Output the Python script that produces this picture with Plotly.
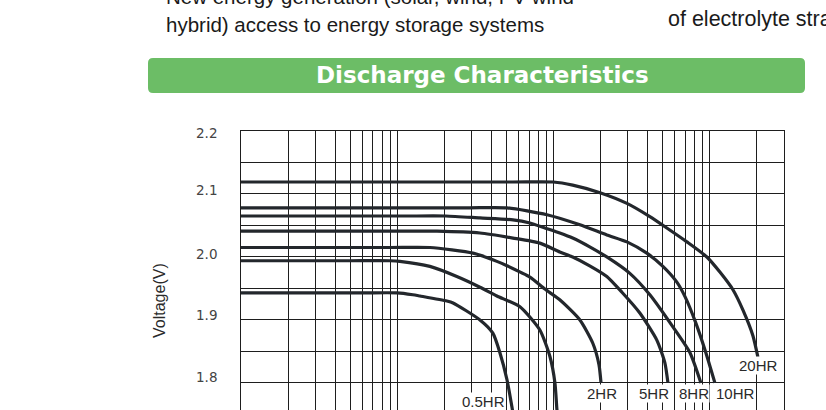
import math
import plotly.graph_objects as go

# ---------------- data (time in minutes, log scale; voltage per cell) ----------------
t_05 = [1, 6, 10, 12.6, 14, 20.8, 22.8, 33.9, 41, 45.5, 50.5, 54.3, 56]
v_05 = [1.943, 1.943, 1.943, 1.940, 1.938, 1.930, 1.927, 1.900, 1.879, 1.848, 1.805, 1.762, 1.741]

t_1 = [1, 5, 9, 10.4, 16.2, 24.1, 33.9, 43.5, 61.1, 82, 95.1, 102.4, 105.5, 108]
v_1 = [1.994, 1.994, 1.994, 1.993, 1.985, 1.969, 1.952, 1.938, 1.921, 1.884, 1.842, 1.800, 1.757, 1.735]

t_2 = [1, 9, 16.2, 30.6, 43.5, 50.5, 70.8, 88.3, 110, 148, 179, 196, 202]
v_2 = [2.015, 2.015, 2.015, 2.006, 1.993, 1.986, 1.968, 1.949, 1.932, 1.900, 1.863, 1.829, 1.800]

t_5 = [1, 10, 18, 33.9, 55.1, 82, 110, 133, 171, 220, 275, 358, 460, 518, 542]
v_5 = [2.041, 2.041, 2.041, 2.038, 2.030, 2.022, 2.008, 2.000, 1.986, 1.969, 1.944, 1.911, 1.868, 1.832, 1.800]

t_8 = [1, 11, 20.5, 33.9, 55.1, 70.8, 88.3, 110, 133, 171, 220, 309, 415, 583, 750, 881]
v_8 = [2.065, 2.065, 2.065, 2.062, 2.059, 2.054, 2.046, 2.038, 2.030, 2.016, 2.000, 1.974, 1.940, 1.889, 1.848, 1.800]

t_10 = [1, 28, 50.5, 91, 148, 220, 296, 397, 503, 618, 697, 818, 948, 1083]
v_10 = [2.078, 2.078, 2.078, 2.067, 2.051, 2.035, 2.024, 2.006, 1.985, 1.960, 1.937, 1.895, 1.848, 1.800]

t_20 = [1, 55, 100, 133, 199, 296, 415, 533, 716, 962, 1166, 1413, 1636, 1897, 2042]
v_20 = [2.119, 2.119, 2.119, 2.114, 2.102, 2.085, 2.064, 2.046, 2.024, 2.000, 1.976, 1.948, 1.916, 1.875, 1.841]

curve_names = ["0.5HR", "1HR", "2HR", "5HR", "8HR", "10HR", "20HR"]
curve_t = [t_05, t_1, t_2, t_5, t_8, t_10, t_20]
curve_v = [v_05, v_1, v_2, v_5, v_8, v_10, v_20]

label_names = ["0.5HR", "2HR", "5HR", "8HR", "10HR", "20HR"]
label_t = [35.9, 203.8, 440.6, 794, 1476, 2070]
label_v = [1.770, 1.784, 1.7825, 1.784, 1.784, 1.827]

x_grid = [1, 2, 3, 4, 5, 6, 7, 8, 9, 10, 20, 30, 40, 50, 60, 70, 80, 90,
          100, 200, 300, 400, 500, 600, 700, 800, 900, 1000, 2000, 3000]
y_grid = [1.75, 1.80, 1.85, 1.90, 1.95, 2.00, 2.05, 2.10, 2.15, 2.20]
y_label_vals = [1.8, 1.9, 2.0, 2.1, 2.2]
y_label_text = ["1.8", "1.9", "2.0", "2.1", "2.2"]
y_label_shift = [5.5, 4.5, 2.5, 3.5, -1.5]   # pixel offsets of the printed labels

title_text = "Discharge Characteristics"
y_title = "Voltage(V)"
top_line1 = "New energy generation (solar, wind, PV wind"
top_line2 = "hybrid) access to energy storage systems"
top_right = "of electrolyte stratification"

# ---------------- figure ----------------
W, H = 826, 410
ML, MR, MT, MB = 241, 42, 131, 0
PW, PH = W - ML - MR, H - MT - MB


def px_x(p):
    return (p - ML) / PW


def px_y(p):
    return (H - MB - p) / PH


LINE = "#23272c"
fig = go.Figure()
for name, t, v in zip(curve_names, curve_t, curve_v):
    fig.add_trace(go.Scatter(x=t, y=v, mode="lines", name=name,
                             line=dict(color=LINE, width=3.2, shape="spline", smoothing=0.6),
                             showlegend=False, hoverinfo="skip"))

ann = []
for n, x, y in zip(label_names, label_t, label_v):
    ann.append(dict(x=math.log10(x), y=y, xref="x", yref="y", text=n, showarrow=False,
                    font=dict(family="Liberation Sans, Arial, sans-serif", size=15, color="#2a2a2a"),
                    bgcolor="white", borderpad=0, xanchor="center", yanchor="middle"))

for v, s, sh in zip(y_label_vals, y_label_text, y_label_shift):
    ann.append(dict(x=px_x(219), y=v, xref="paper", yref="y", text=s, showarrow=False,
                    xanchor="right", yanchor="middle", yshift=sh,
                    font=dict(family="DejaVu Sans, sans-serif", size=13.5, color="#444444")))

ann.append(dict(x=px_x(159), y=px_y(301), xref="paper", yref="paper", text=y_title,
                textangle=-90, showarrow=False, xanchor="center", yanchor="middle",
                font=dict(family="Liberation Sans, Arial, sans-serif", size=16, color="#2a2a2a")))

ann.append(dict(x=px_x(482.5), y=px_y(75.5), xref="paper", yref="paper", text=title_text,
                showarrow=False, xanchor="center", yanchor="middle",
                font=dict(family="DejaVu Sans, sans-serif", size=23, color="white", weight="bold")))

body = "Liberation Sans, Arial, sans-serif"
ann.append(dict(x=px_x(164), y=px_y(-4), xref="paper", yref="paper", text=top_line1,
                showarrow=False, xanchor="left", yanchor="middle",
                font=dict(family=body, size=20.5, color="#1a1a1a")))
ann.append(dict(x=px_x(164), y=px_y(25), xref="paper", yref="paper", text=top_line2,
                showarrow=False, xanchor="left", yanchor="middle",
                font=dict(family=body, size=20.5, color="#1a1a1a")))
ann.append(dict(x=px_x(666), y=px_y(19), xref="paper", yref="paper", text=top_right,
                showarrow=False, xanchor="left", yanchor="middle",
                font=dict(family=body, size=21.5, color="#1a1a1a")))

# rounded green banner
x0, x1 = px_x(148), px_x(805)
y0, y1 = px_y(93), px_y(58)
rx, ry = 5 / PW, 5 / PH
path = (f"M {x0+rx},{y0} L {x1-rx},{y0} Q {x1},{y0} {x1},{y0+ry} L {x1},{y1-ry} "
        f"Q {x1},{y1} {x1-rx},{y1} L {x0+rx},{y1} Q {x0},{y1} {x0},{y1-ry} "
        f"L {x0},{y0+ry} Q {x0},{y0} {x0+rx},{y0} Z")
shapes = [dict(type="path", path=path, xref="paper", yref="paper",
               fillcolor="#6cbd66", line=dict(width=0), layer="below")]

fig.update_layout(
    width=W, height=H,
    margin=dict(l=ML, r=MR, t=MT, b=MB, pad=0),
    paper_bgcolor="white", plot_bgcolor="white",
    annotations=ann, shapes=shapes,
    xaxis=dict(type="log", range=[0, 3.4771], tickvals=x_grid, showticklabels=False,
               ticks="", showgrid=True, gridcolor="#1e1e1e", gridwidth=1,
               showline=True, linecolor="#1e1e1e", linewidth=1, side="top",
               zeroline=False, fixedrange=True),
    yaxis=dict(range=[1.757, 2.2], tickvals=y_grid, showticklabels=False, ticks="",
               showgrid=True, gridcolor="#1e1e1e", gridwidth=1,
               showline=True, mirror=True, linecolor="#1e1e1e", linewidth=1,
               zeroline=False, fixedrange=True),
)

fig.write_html("out.html", config={"displayModeBar": False})
